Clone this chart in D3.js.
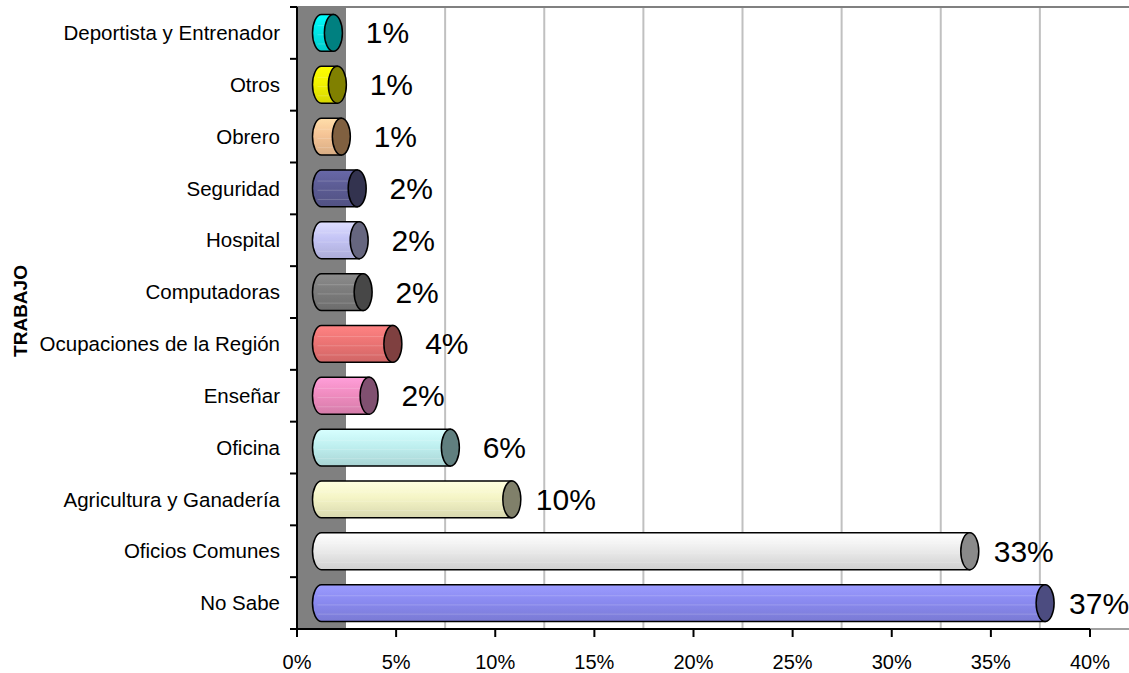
<!DOCTYPE html>
<html>
  <head>
    <meta charset="utf-8" />
    <title>TRABAJO</title>
    <script src="https://d3js.org/d3.v7.min.js"></script>
    <style>
      body { margin: 0; background: #fff; }
      text { font-family: "Liberation Sans", Arial, sans-serif; }
    </style>
  </head>
  <body>
    <svg id="chart" width="1129" height="673"></svg>
    <script>
      // datos (de arriba hacia abajo)
      const categories = [
        "Deportista y Entrenador", "Otros", "Obrero", "Seguridad", "Hospital",
        "Computadoras", "Ocupaciones de la Región", "Enseñar", "Oficina",
        "Agricultura y Ganadería", "Oficios Comunes", "No Sabe"
      ];
      const values = [0.6, 0.8, 1.0, 1.8, 1.9, 2.1, 3.6, 2.4, 6.5, 9.6, 32.7, 36.5];
      const valueLabels = ["1%", "1%", "1%", "2%", "2%", "2%", "4%", "2%", "6%", "10%", "33%", "37%"];
      const xTicks = [0, 5, 10, 15, 20, 25, 30, 35, 40];
      const bodyColors = [
        "#00e6e6", "#f2f200", "#f5c496", "#5c5c94", "#c4c4f5", "#7c7c7c",
        "#ec7474", "#f08cc0", "#bff0f0", "#f5f5c6", "#ececec", "#8a8af0"
      ];
      const capColors = [
        "#008080", "#808000", "#806040", "#33334f", "#66667f", "#474747",
        "#7f4040", "#805070", "#607f7f", "#80806a", "#8a8a8a", "#4c4c80"
      ];

      const svg = d3.select("#chart");
      const pLeft = 297, pRight = 1090, pTop = 7, pBottom = 629;
      const depth = 49, off = 24.5;

      const x = d3.scaleLinear().domain([0, 40]).range([pLeft, pRight]);
      const y = d3.scaleBand().domain(categories).range([pTop, pBottom]).paddingInner(0.29).paddingOuter(0.145);
      const yb = d3.scaleBand().domain(categories).range([pTop, pBottom]);

      // pared lateral gris
      svg.append("rect")
        .attr("x", pLeft).attr("y", pTop)
        .attr("width", depth).attr("height", pBottom - pTop)
        .attr("fill", "#808080");

      // lineas de cuadricula (plano de fondo)
      svg.append("g").selectAll("line")
        .data(xTicks.filter((t) => t > 0))
        .join("line")
        .attr("x1", (d) => x(d) + depth).attr("x2", (d) => x(d) + depth)
        .attr("y1", pTop).attr("y2", pBottom)
        .attr("stroke", "#c0c0c0").attr("stroke-width", 2);

      svg.append("line")
        .attr("x1", pLeft).attr("x2", 1129).attr("y1", pTop).attr("y2", pTop)
        .attr("stroke", "#808080").attr("stroke-width", 2);
      svg.append("line")
        .attr("x1", pRight).attr("x2", 1129).attr("y1", pBottom).attr("y2", pBottom)
        .attr("stroke", "#a0a0a0").attr("stroke-width", 2);

      // degradados
      const defs = svg.append("defs");
      categories.forEach((c, i) => {
        const col = d3.color(bodyColors[i]);
        const g = defs.append("linearGradient")
          .attr("id", "g" + i).attr("x1", 0).attr("y1", 0).attr("x2", 0).attr("y2", 1);
        g.append("stop").attr("offset", "0%").attr("stop-color", col.brighter(0.35));
        g.append("stop").attr("offset", "45%").attr("stop-color", col);
        g.append("stop").attr("offset", "100%").attr("stop-color", col.darker(0.35));
      });

      // cilindros
      const bars = svg.append("g").selectAll("g")
        .data(categories)
        .join("g");

      bars.each(function (c, i) {
        const g = d3.select(this);
        const y0 = y(c), h = y.bandwidth(), ry = h / 2, rx = 9;
        const x0 = x(0) + off, x1 = x(values[i]) + off;
        g.append("path")
          .attr("d", `M${x1},${y0} L${x0},${y0} A${rx},${ry} 0 0 0 ${x0},${y0 + h} L${x1},${y0 + h} Z`)
          .attr("fill", `url(#g${i})`)
          .attr("stroke", "#000").attr("stroke-width", 1.5);
        // rayas horizontales suaves
        [0.3, 0.55, 0.8].forEach((f) => {
          g.append("line")
            .attr("x1", x0 - 4).attr("x2", x1)
            .attr("y1", y0 + h * f).attr("y2", y0 + h * f)
            .attr("stroke", "#fff").attr("stroke-opacity", 0.18).attr("stroke-width", 1);
        });
        g.append("ellipse")
          .attr("cx", x1).attr("cy", y0 + ry)
          .attr("rx", rx).attr("ry", ry)
          .attr("fill", capColors[i])
          .attr("stroke", "#000").attr("stroke-width", 1.5);
        g.append("text")
          .attr("x", x1 + 54).attr("y", y0 + ry)
          .attr("dy", "0.35em")
          .attr("text-anchor", "middle")
          .attr("font-size", 30)
          .attr("fill", "#000")
          .text(valueLabels[i]);
      });

      // eje Y
      svg.append("line")
        .attr("x1", pLeft).attr("x2", pLeft).attr("y1", pTop).attr("y2", pBottom)
        .attr("stroke", "#000").attr("stroke-width", 2);
      svg.append("g").selectAll("line")
        .data(d3.range(categories.length + 1))
        .join("line")
        .attr("x1", pLeft - 7).attr("x2", pLeft)
        .attr("y1", (d) => pTop + d * yb.step()).attr("y2", (d) => pTop + d * yb.step())
        .attr("stroke", "#000").attr("stroke-width", 2);
      svg.append("g").selectAll("text")
        .data(categories)
        .join("text")
        .attr("x", 280)
        .attr("y", (d) => yb(d) + yb.bandwidth() / 2)
        .attr("dy", "0.35em")
        .attr("text-anchor", "end")
        .attr("font-size", 20.5)
        .text((d) => d);

      // eje X
      svg.append("line")
        .attr("x1", pLeft - 7).attr("x2", pRight).attr("y1", pBottom).attr("y2", pBottom)
        .attr("stroke", "#000").attr("stroke-width", 2);
      const xt = svg.append("g").selectAll("g").data(xTicks).join("g");
      xt.append("line")
        .attr("x1", (d) => x(d)).attr("x2", (d) => x(d))
        .attr("y1", pBottom).attr("y2", pBottom + 8)
        .attr("stroke", "#000").attr("stroke-width", 2);
      xt.append("text")
        .attr("x", (d) => x(d)).attr("y", 669)
        .attr("text-anchor", "middle")
        .attr("font-size", 20)
        .text((d) => d + "%");

      // titulo del eje
      svg.append("text")
        .attr("transform", "translate(27,311) rotate(-90)")
        .attr("text-anchor", "middle")
        .attr("font-size", 19)
        .attr("font-weight", "bold")
        .text("TRABAJO");
    </script>
  </body>
</html>
